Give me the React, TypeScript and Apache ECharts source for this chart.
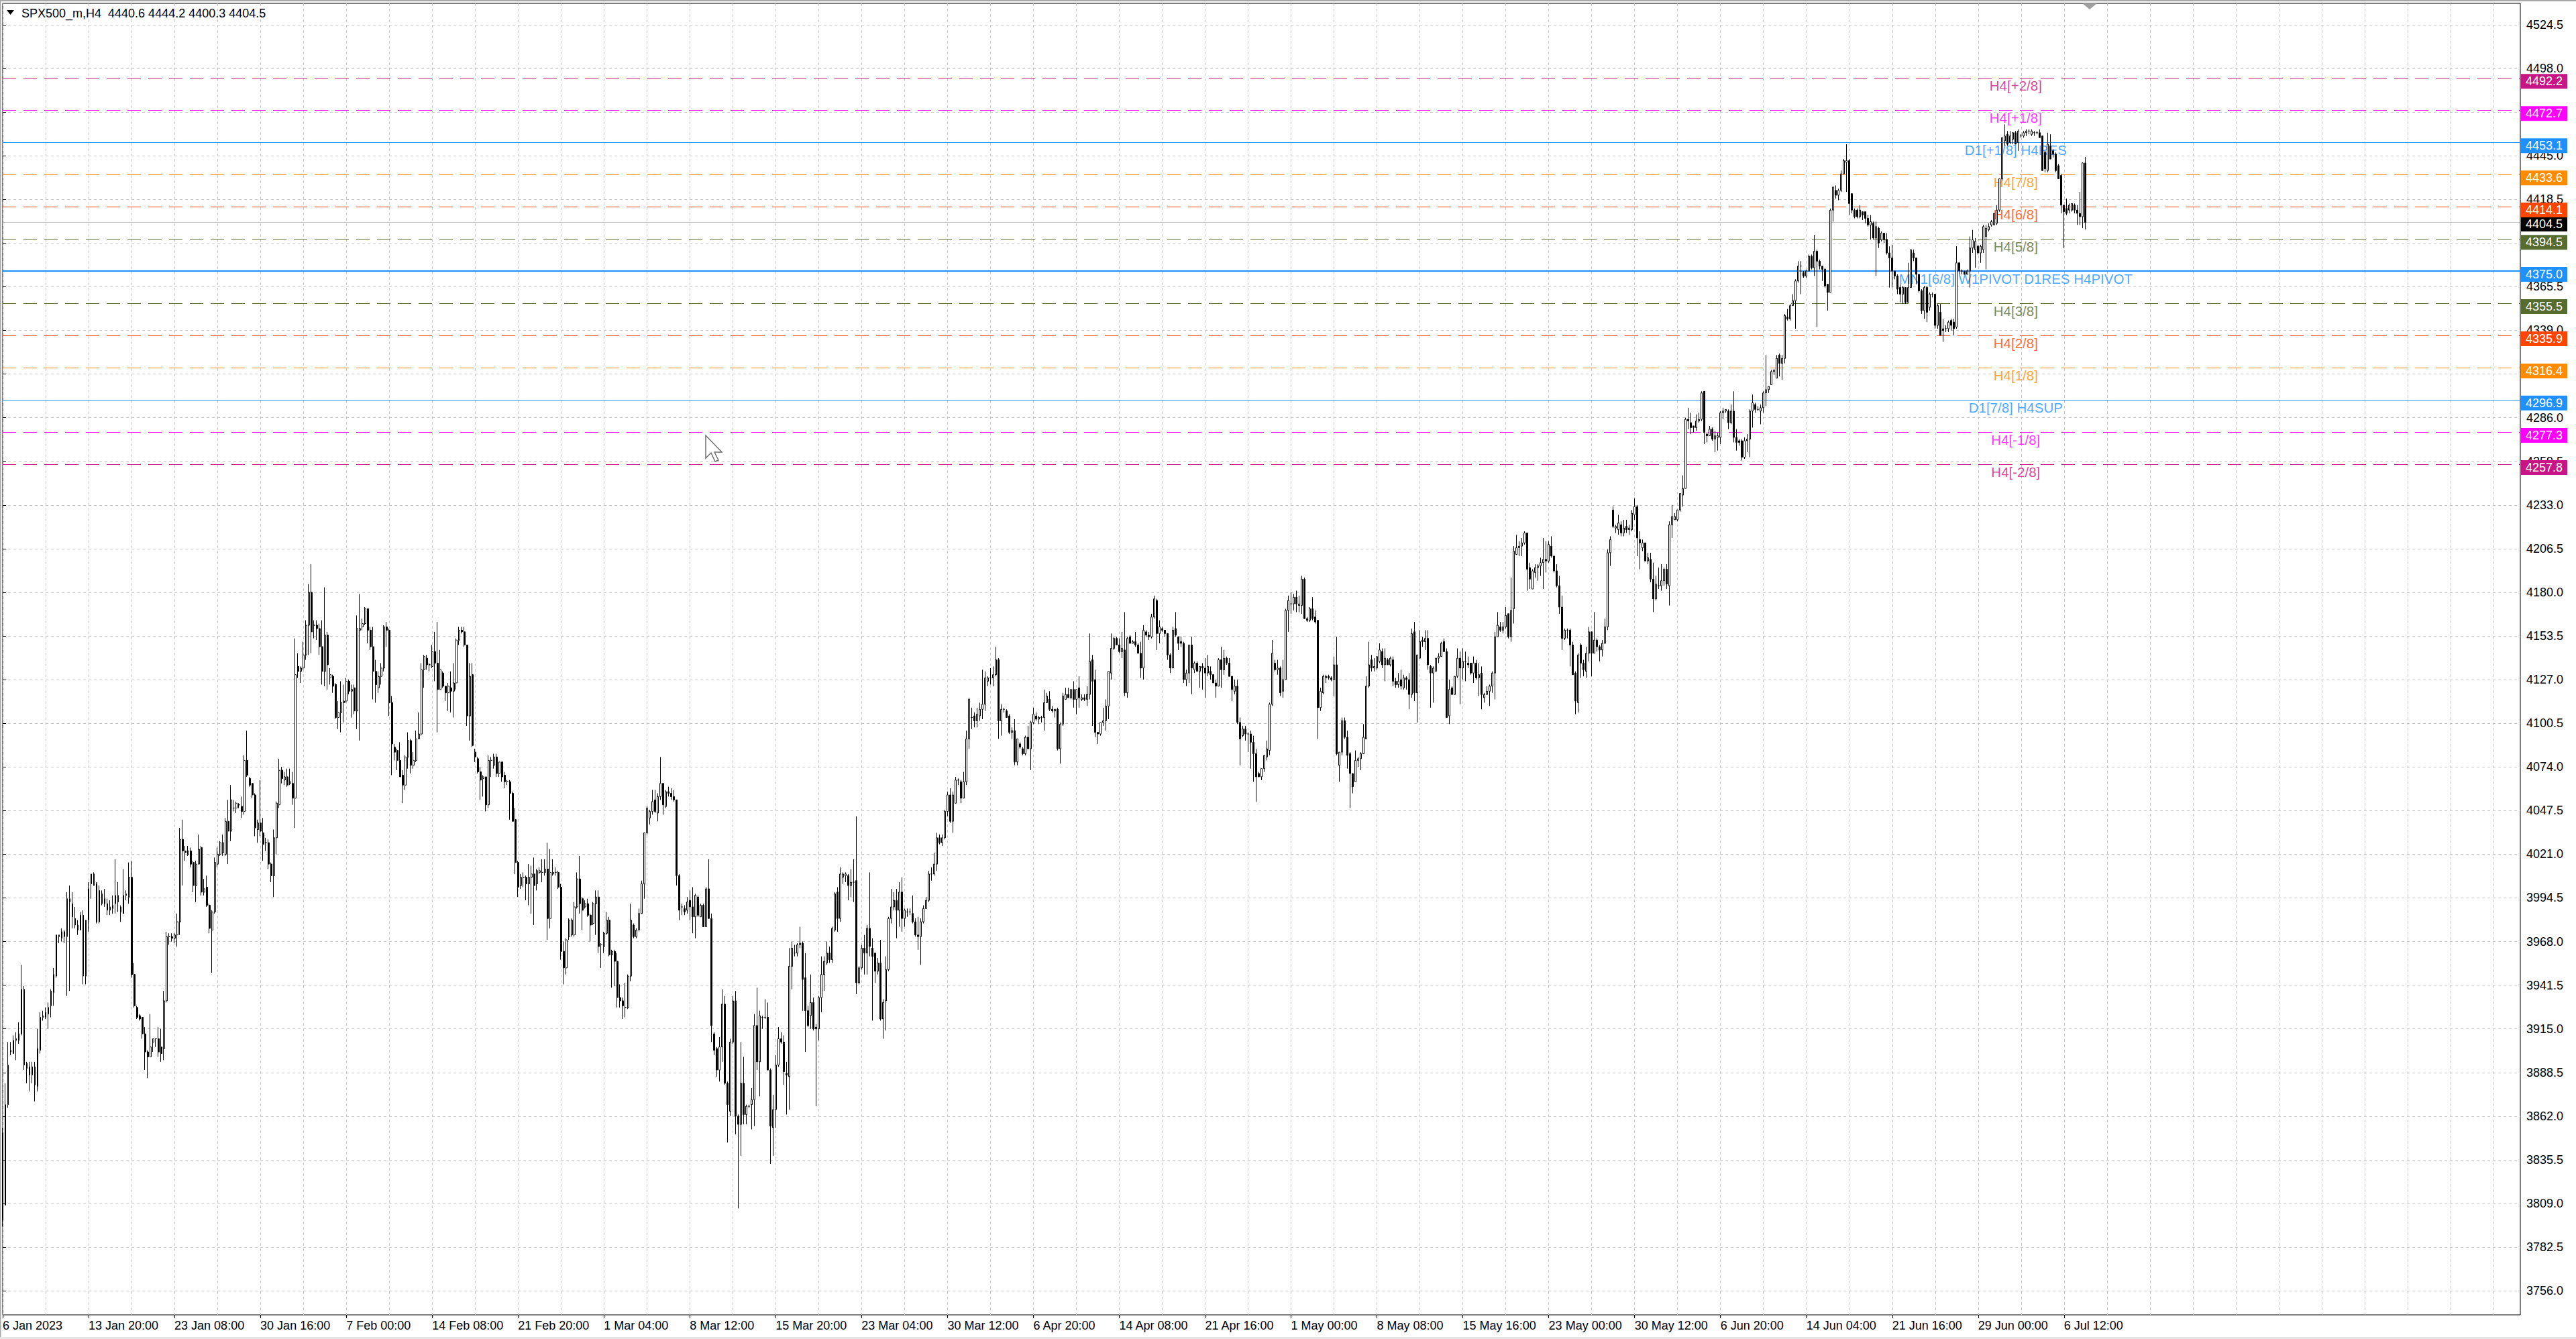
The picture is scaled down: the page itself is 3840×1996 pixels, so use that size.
import { useEffect, useRef } from "react";
import * as echarts from "echarts";

// ---- data (SPX500_m, H4) ----
const dateLabels = [
  "6 Jan 2023", "13 Jan 20:00", "23 Jan 08:00", "30 Jan 16:00", "7 Feb 00:00", "14 Feb 08:00",
  "21 Feb 20:00", "1 Mar 04:00", "8 Mar 12:00", "15 Mar 20:00", "23 Mar 04:00", "30 Mar 12:00",
  "6 Apr 20:00", "14 Apr 08:00", "21 Apr 16:00", "1 May 00:00", "8 May 08:00", "15 May 16:00",
  "23 May 00:00", "30 May 12:00", "6 Jun 20:00", "14 Jun 04:00", "21 Jun 16:00", "29 Jun 00:00",
  "6 Jul 12:00",
];

const opens = [
  3852,3808,3869,3901,3900,3908,3908,3912,3939,3894,
  3892,3887,3892,3880,3902,3922,3922,3924,3929,3937,
  3947,3972,3970,3974,3971,3994,3991,3982,3978,3975,
  3984,3947,3981,4003,4009,4003,3980,3997,3994,3991,
  3987,3988,3991,3996,3989,3985,3996,3995,4007,3948,
  3928,3923,3922,3912,3901,3898,3907,3909,3909,3904,
  3903,3932,3971,3971,3970,3972,3980,4030,4023,4021,
  4023,4016,4002,4015,4025,3998,4001,3990,3975,3986,
  4015,4021,4022,4021,4041,4035,4049,4049,4051,4050,
  4047,4078,4067,4064,4057,4036,4040,4034,4028,4028,
  4015,4008,4031,4051,4072,4066,4068,4064,4064,4055,
  4135,4132,4134,4142,4160,4180,4160,4160,4158,4147,
  4132,4154,4128,4129,4124,4104,4107,4113,4114,
  4126,4120,4122,4108,4157,4159,4161,4170,4157,4147,
  4132,4122,4129,4134,4159,4157,4113,4086,4084,4078,
  4069,4063,4080,4090,4075,4078,4091,4094,4133,4140,
  4136,4135,4144,4137,4121,4131,4123,4119,4122,4120,
  4125,4151,4157,4156,4148,4105,4130,4083,4079,4071,
  4067,4068,4051,4078,4075,4080,4070,4077,4069,4065,
  4065,4058,4042,4016,4002,4007,4007,4003,4007,4009,
  4003,4010,4010,4010,4012,3982,4009,4010,4010,4001,
  3962,3952,3971,3972,3972,3989,4006,3994,3989,3991,
  3984,3979,3991,3995,3966,3965,3973,3981,3960,3962,
  3956,3934,3932,3928,3928,3947,3978,3971,3975,3985,
  4003,4034,4043,4047,4054,4046,4056,4064,4050,4059,
  4058,4056,4054,4008,3989,3988,3987,3993,3989,3983,
  3995,3983,3990,3977,4000,3982,3912,3903,3890,3904,
  3930,3882,3865,3907,3932,3862,3857,3882,3863,3868,
  3869,3872,3917,3895,3922,3922,3922,3890,3855,3866,
  3893,3909,3907,3888,3886,3953,3961,3961,3966,3967,
  3946,3926,3923,3931,3916,3915,3934,3948,3955,3961,
  3957,3975,3998,3982,4007,4008,4008,4002,4004,4005,
  3943,3952,3964,3961,3976,3964,3961,3950,3955,3921,
  3932,3951,3982,3989,3993,3987,3998,3982,3986,3986,
  3985,3980,3972,3971,3980,3988,3993,4009,4009,4015,
  4031,4028,4031,4047,4057,4041,4052,4066,4065,4055,
  4065,4091,4104,4105,4102,4105,4109,4112,4126,4128,
  4128,4130,4139,4102,4109,4108,4105,4095,4096,4077,
  4088,4085,4082,4092,4085,4101,4105,4103,4104,4104,
  4113,4115,4109,4108,4109,4085,4100,4115,4118,4116,
  4121,4115,4122,4115,4116,4115,4118,4139,4127,4095,
  4094,4101,4102,4111,4131,4146,4152,4148,4144,4145,
  4119,4153,4149,4150,4148,4143,4134,4156,4154,4153,
  4165,4175,4155,4158,4157,4155,4142,4134,4158,4153,
  4150,4149,4127,4131,4148,4133,4137,4132,4135,4134,
  4131,4132,4130,4125,4123,4139,4133,4140,4137,4129,
  4120,4123,4101,4093,4097,4094,4094,4089,4082,4070,
  4068,4073,4080,4084,4112,4137,4133,4134,4120,4127,
  4169,4173,4173,4177,4172,4172,4188,4164,4163,4170,
  4165,4163,4110,4119,4128,4129,4128,4127,4136,4075,
  4083,4102,4092,4082,4070,4065,4078,4079,4082,4091,
  4123,4139,4134,4134,4138,4144,4136,4139,4136,4139,
  4126,4124,4127,4122,4128,4127,4118,4156,4119,4140,
  4151,4150,4152,4135,4131,4132,4140,4141,4150,4144,
  4105,4122,4118,4129,4140,4134,4138,4137,4137,4131,
  4137,4128,4131,4116,4118,4120,4123,4131,4153,4159,
  4157,4159,4167,4153,4170,4203,4207,4208,4210,4216,
  4195,4182,4192,4195,4196,4198,4200,4199,4208,4202,
  4193,4184,4171,4152,4157,4157,4148,4131,4113,4148,
  4137,4132,4143,4156,4143,4151,4147,4145,4149,4159,
  4204,4230,4219,4218,4221,4216,4220,4218,4218,4227,
  4232,4212,4207,4210,4199,4200,4188,4176,4184,4184,
  4187,4194,4184,4221,4224,4224,4230,4239,4243,4285,
  4283,4281,4280,4284,4285,4302,4276,4275,4279,4273,
  4274,4274,4289,4290,4290,4283,4290,4274,4272,4272,
  4262,4272,4273,4290,4294,4291,4290,4292,4301,4303,
  4306,4314,4310,4324,4319,4322,4347,4346,4354,4357,
  4369,4378,4374,4372,4375,4384,4377,4387,4381,4378,
  4376,4367,4362,4412,4424,4421,4424,4434,4441,4442,
  4422,4412,4412,4408,4411,4411,4407,4403,4404,4395,
  4401,4394,4398,4394,4386,4383,4375,4372,4365,4361,
  4365,4356,4365,4386,4383,4373,4363,4351,4365,4353,
  4361,4361,4342,4350,4340,4340,4340,4345,4344,4341,
  4380,4375,4375,4373,4375,4389,4388,4390,4386,4388,
  4396,4400,4403,4403,4404,4412,4431,4454,4458,4453,
  4455,4459,4453,4457,4457,4459,4460,4458,4459,4459,
  4459,4457,4447,4436,4451,4448,4446,4439,4433,4415,
  4413,4412,4412,4415,4412,4410,4408,4440.6,
];

const highs = [
  3855,3882,3907,3907,3911,3913,3919,3954,3941,3895,
  3895,3895,3895,3915,3925,3926,3928,3931,3939,3952,
  3972,3972,3976,3975,3998,4002,3998,3989,3981,3986,
  3987,3981,4004,4009,4010,4004,4002,3999,4000,3994,
  3993,3996,4018,4004,3990,4012,3999,4016,4017,3955,
  3929,3924,3922,3916,3902,3924,3909,3909,3916,3915,
  3938,3974,3973,3973,3973,3985,4037,4042,4026,4026,
  4025,4017,4017,4033,4026,4006,4008,3991,3987,4019,
  4025,4029,4033,4043,4054,4063,4054,4053,4052,4056,
  4081,4096,4068,4064,4058,4042,4066,4043,4031,4030,
  4016,4036,4053,4079,4074,4071,4073,4073,4071,4152,
  4143,4135,4150,4163,4185,4197,4163,4163,4161,4163,
  4183,4156,4134,4130,4125,4114,4126,4124,4128,
  4127,4124,4124,4166,4179,4164,4171,4170,4159,4159,
  4139,4132,4137,4160,4162,4158,4117,4088,4085,4089,
  4072,4081,4095,4091,4083,4096,4107,4137,4142,4142,
  4137,4148,4156,4162,4145,4132,4123,4125,4132,4137,
  4152,4159,4159,4159,4148,4137,4137,4085,4080,4074,
  4069,4068,4081,4080,4082,4082,4077,4077,4071,4066,
  4066,4059,4049,4017,4009,4010,4008,4015,4014,4019,
  4012,4013,4018,4018,4028,4024,4018,4013,4011,4003,
  3968,3970,3982,3982,3992,4010,4020,3995,3993,3994,
  3985,3992,3999,3999,3967,3974,3986,3983,3963,3963,
  3961,3942,3934,3943,3948,3991,3979,3976,3988,4005,
  4034,4050,4048,4060,4060,4058,4080,4064,4060,4062,
  4061,4060,4054,4009,3991,3990,3995,3999,4001,3997,
  3996,3991,3991,4001,4018,3985,3913,3904,3910,3939,
  3935,3883,3909,3935,3938,3863,3907,3898,3869,3869,
  3879,3924,3940,3926,3923,3933,3931,3891,3875,3899,
  3916,3913,3911,3895,3964,3968,3966,3967,3977,3968,
  3961,3929,3948,3934,3918,3935,3959,3959,3968,3965,
  3977,3998,4001,4013,4010,4010,4009,4012,4018,4044,
  3953,3966,3972,3978,4010,3970,3961,3958,3969,3933,
  3959,3983,4000,3998,4000,4004,4007,3988,3988,3988,
  3996,3982,3983,3982,3990,3995,4011,4013,4022,4034,
  4033,4033,4048,4059,4061,4059,4068,4067,4066,4071,
  4096,4116,4110,4107,4110,4113,4133,4132,4129,4134,
  4135,4147,4140,4112,4110,4109,4106,4098,4103,4091,
  4089,4086,4093,4099,4102,4110,4107,4105,4105,4121,
  4119,4120,4111,4109,4110,4101,4119,4122,4122,4121,
  4126,4121,4129,4118,4118,4123,4155,4142,4133,4095,
  4101,4110,4115,4132,4155,4153,4153,4152,4156,4168,
  4153,4154,4151,4156,4149,4150,4160,4157,4156,4167,
  4178,4176,4163,4159,4157,4155,4143,4159,4168,4153,
  4153,4150,4133,4148,4153,4138,4138,4135,4137,4140,
  4142,4135,4130,4127,4140,4147,4145,4141,4140,4129,
  4127,4127,4104,4099,4099,4095,4096,4093,4085,4071,
  4073,4081,4090,4113,4151,4139,4139,4135,4139,4170,
  4178,4180,4179,4181,4178,4190,4189,4165,4171,4177,
  4169,4163,4122,4130,4130,4130,4129,4141,4153,4083,
  4104,4104,4096,4083,4070,4084,4080,4083,4100,4129,
  4150,4142,4140,4141,4149,4146,4146,4140,4141,4141,
  4128,4131,4133,4130,4129,4131,4158,4162,4142,4157,
  4153,4157,4157,4136,4135,4140,4143,4150,4152,4146,
  4127,4123,4129,4146,4144,4146,4144,4141,4137,4141,
  4139,4137,4135,4119,4123,4124,4132,4156,4168,4162,
  4162,4171,4167,4189,4208,4215,4211,4213,4217,4216,
  4198,4194,4197,4197,4201,4213,4211,4211,4214,4202,
  4197,4190,4178,4158,4158,4158,4150,4132,4143,4149,
  4139,4147,4159,4156,4168,4152,4148,4151,4164,4206,
  4214,4232,4221,4227,4223,4224,4224,4221,4230,4237,
  4233,4217,4212,4210,4204,4204,4198,4190,4195,4197,
  4195,4197,4223,4233,4228,4230,4240,4251,4286,4292,
  4289,4281,4288,4289,4302,4302,4277,4281,4280,4278,
  4277,4290,4292,4291,4291,4294,4302,4279,4273,4273,
  4274,4276,4291,4300,4295,4293,4294,4302,4324,4305,
  4315,4315,4324,4325,4324,4349,4352,4355,4361,4370,
  4381,4381,4375,4376,4385,4385,4397,4388,4382,4378,
  4377,4367,4413,4426,4427,4425,4436,4443,4452,4443,
  4422,4413,4413,4415,4411,4411,4409,4409,4405,4405,
  4402,4399,4398,4398,4390,4391,4375,4373,4367,4366,
  4365,4380,4388,4388,4383,4373,4364,4366,4366,4362,
  4362,4361,4355,4355,4346,4342,4345,4346,4346,4390,
  4380,4376,4375,4376,4396,4400,4395,4391,4391,4403,
  4403,4404,4406,4410,4415,4431,4456,4464,4460,4460,
  4459,4460,4461,4458,4460,4461,4461,4461,4460,4460,
  4461,4457,4448,4459,4458,4449,4447,4440,4434,4415,
  4419,4416,4416,4416,4415,4423,4441,4444.2,
];

const lows = [
  3795,3808,3867,3899,3900,3896,3906,3911,3890,3882,
  3877,3882,3871,3877,3900,3920,3921,3915,3922,3929,
  3946,3967,3968,3967,3935,3938,3976,3976,3972,3975,
  3942,3942,3974,3994,4002,3979,3979,3990,3989,3984,
  3984,3985,3985,3986,3980,3985,3993,3991,3946,3928,
  3921,3920,3909,3890,3885,3898,3901,3904,3898,3895,
  3896,3931,3966,3968,3967,3965,3972,4002,4017,4020,
  4013,3998,3992,4015,3996,3996,3989,3973,3949,3985,
  4013,4020,4020,4020,4015,4029,4047,4046,4049,4043,
  4045,4068,4062,4055,4032,4028,4032,4017,4023,4012,
  4004,3995,4021,4049,4064,4063,4062,4063,4051,4037,
  4128,4125,4133,4139,4142,4143,4152,4151,4142,4124,
  4123,4121,4124,4119,4103,4097,4095,4101,4113,
  4118,4104,4106,4097,4090,4157,4160,4149,4145,4115,
  4113,4119,4124,4132,4147,4105,4069,4078,4072,4068,
  4052,4060,4073,4070,4073,4077,4091,4093,4122,4133,
  4132,4134,4126,4095,4121,4122,4114,4108,4107,4104,
  4121,4148,4155,4147,4099,4090,4086,4077,4070,4054,
  4056,4047,4049,4068,4073,4068,4068,4065,4061,4063,
  4042,4041,4009,3995,4000,4001,3993,3990,3985,3978,
  3999,4009,4004,4008,3969,3976,4008,4008,4000,3957,
  3942,3948,3969,3971,3971,3988,3985,3975,3988,3983,
  3968,3978,3972,3961,3952,3961,3972,3959,3940,3941,
  3928,3928,3921,3922,3927,3944,3970,3970,3975,3985,
  3994,4033,4039,4045,4046,4041,4054,4045,4049,4056,
  4054,4053,4002,3981,3984,3984,3985,3981,3973,3970,
  3983,3983,3977,3977,3982,3907,3899,3886,3883,3895,
  3881,3846,3862,3906,3851,3806,3838,3857,3857,3867,
  3854,3856,3890,3874,3915,3921,3890,3833,3838,3855,
  3892,3906,3881,3863,3866,3939,3959,3959,3964,3926,
  3901,3916,3915,3914,3868,3908,3925,3938,3954,3955,
  3955,3974,3974,3980,4003,4004,3993,3995,3992,3936,
  3942,3951,3948,3948,3959,3920,3943,3948,3920,3909,
  3914,3950,3979,3987,3970,3977,3974,3977,3983,3984,
  3979,3971,3963,3954,3979,3988,3992,4005,4008,4011,
  4027,4026,4030,4044,4040,4034,4052,4063,4052,4055,
  4063,4085,4097,4098,4098,4102,4103,4108,4123,4124,
  4123,4129,4091,4093,4107,4104,4094,4091,4075,4075,
  4085,4081,4081,4085,4072,4100,4102,4100,4101,4096,
  4113,4108,4107,4104,4084,4076,4099,4115,4116,4115,
  4110,4106,4110,4114,4114,4111,4115,4099,4092,4088,
  4093,4099,4096,4103,4127,4145,4148,4143,4140,4117,
  4116,4149,4149,4147,4143,4128,4127,4153,4151,4152,
  4164,4145,4149,4156,4153,4139,4131,4134,4153,4145,
  4147,4125,4123,4125,4118,4131,4132,4122,4121,4116,
  4129,4127,4125,4116,4123,4122,4130,4136,4129,4114,
  4118,4100,4075,4092,4090,4083,4073,4065,4053,4068,
  4066,4071,4078,4081,4111,4132,4130,4117,4116,4127,
  4156,4167,4169,4168,4168,4167,4164,4162,4162,4163,
  4161,4091,4108,4118,4125,4127,4126,4117,4081,4065,
  4081,4091,4073,4049,4058,4065,4074,4072,4082,4091,
  4122,4132,4132,4133,4137,4134,4126,4136,4135,4123,
  4122,4122,4121,4121,4121,4109,4116,4114,4101,4140,
  4147,4145,4133,4110,4113,4132,4137,4141,4144,4104,
  4100,4118,4118,4128,4112,4127,4126,4134,4130,4125,
  4127,4117,4109,4113,4118,4111,4119,4115,4153,4156,
  4155,4158,4152,4150,4161,4203,4202,4202,4209,4181,
  4182,4182,4189,4187,4190,4182,4192,4198,4201,4192,
  4183,4167,4145,4151,4152,4135,4130,4106,4107,4128,
  4129,4128,4138,4129,4143,4144,4138,4141,4149,4157,
  4196,4219,4216,4215,4214,4214,4216,4215,4217,4224,
  4202,4194,4205,4199,4197,4186,4168,4175,4182,4181,
  4184,4182,4172,4213,4224,4223,4229,4232,4243,4279,
  4276,4277,4278,4283,4284,4270,4271,4275,4272,4265,
  4266,4270,4285,4289,4279,4282,4271,4266,4269,4260,
  4261,4265,4262,4280,4289,4290,4282,4289,4293,4301,
  4306,4312,4310,4311,4309,4319,4345,4345,4354,4340,
  4368,4361,4371,4371,4375,4376,4372,4341,4376,4369,
  4365,4351,4362,4405,4419,4418,4423,4434,4423,4409,
  4410,4407,4407,4407,4406,4404,4402,4394,4394,4372,
  4389,4393,4392,4385,4365,4365,4370,4361,4356,4355,
  4355,4356,4365,4381,4367,4362,4349,4346,4344,4351,
  4359,4340,4340,4336,4332,4338,4338,4339,4336,4340,
  4373,4373,4373,4373,4365,4386,4377,4385,4380,4386,
  4376,4399,4402,4403,4403,4411,4430,4451,4451,4452,
  4452,4452,4448,4456,4456,4457,4458,4457,4457,4458,
  4456,4436,4435,4435,4443,4444,4435,4431,4410,4389,
  4409,4410,4411,4410,4403,4403,4401,4400.3,
];

const closes = [
  3799,3869,3893,3902,3908,3909,3912,3939,3893,3891,
  3887,3892,3881,3903,3922,3923,3925,3928,3938,3948,
  3972,3971,3974,3971,3994,3992,3983,3978,3975,3984,
  3947,3981,4000,4009,4002,3980,3999,3991,3991,3987,
  3989,3990,3996,3992,3986,3996,3997,4007,3948,3929,
  3922,3921,3912,3901,3898,3904,3909,3909,3901,3900,
  3932,3971,3971,3970,3972,3980,4030,4023,4022,4023,
  4015,4002,4015,4024,3998,4000,3990,3976,3986,4016,
  4021,4028,4028,4041,4035,4054,4049,4052,4051,4047,
  4078,4069,4063,4057,4037,4040,4035,4027,4028,4015,
  4008,4031,4052,4072,4067,4068,4063,4065,4055,4130,
  4132,4134,4142,4160,4180,4156,4160,4158,4147,4132,
  4154,4136,4130,4123,4104,4107,4113,4114,4126,
  4120,4121,4108,4158,4158,4161,4170,4157,4147,4132,
  4124,4129,4134,4159,4157,4113,4088,4083,4078,4068,
  4063,4080,4090,4075,4078,4091,4094,4133,4141,4136,
  4136,4144,4137,4121,4133,4123,4119,4123,4120,4125,
  4151,4157,4156,4148,4105,4129,4087,4080,4071,4066,
  4068,4051,4078,4078,4080,4070,4077,4068,4065,4065,
  4058,4041,4016,4001,4007,4007,4003,4007,4009,4002,
  4011,4011,4010,4012,3982,4010,4010,4010,4001,3962,
  3952,3969,3981,3981,3989,4006,3991,3987,3991,3984,
  3978,3991,3995,3965,3966,3973,3981,3960,3962,3956,
  3934,3932,3929,3928,3947,3981,3971,3975,3985,4003,
  4034,4049,4047,4053,4047,4056,4064,4051,4059,4058,
  4056,4054,4008,3987,3989,3986,3992,3989,3983,3996,
  3984,3990,3977,4000,3982,3917,3902,3890,3904,3930,
  3882,3869,3907,3932,3862,3857,3882,3863,3868,3868,
  3872,3917,3895,3923,3922,3922,3890,3856,3866,3893,
  3909,3907,3889,3887,3953,3964,3961,3966,3967,3945,
  3926,3917,3931,3915,3915,3934,3948,3956,3961,3957,
  3976,3997,3982,4009,4009,4009,4002,4004,4004,3943,
  3952,3964,3961,3976,3965,3959,3950,3955,3921,3931,
  3951,3982,3989,3993,3987,3998,3982,3987,3986,3986,
  3980,3972,3971,3980,3988,3993,4009,4009,4015,4031,
  4028,4031,4047,4057,4041,4057,4066,4066,4055,4065,
  4091,4115,4104,4102,4106,4109,4112,4128,4128,4128,
  4130,4139,4102,4109,4109,4104,4095,4096,4077,4091,
  4086,4082,4092,4085,4101,4106,4103,4104,4104,4113,
  4117,4109,4108,4109,4085,4100,4117,4118,4116,4121,
  4115,4121,4116,4116,4115,4118,4138,4126,4095,4094,
  4101,4102,4111,4132,4146,4152,4148,4144,4146,4119,
  4152,4149,4150,4148,4143,4134,4157,4154,4153,4165,
  4176,4155,4159,4157,4155,4142,4134,4157,4154,4149,
  4149,4127,4131,4148,4134,4137,4132,4135,4134,4131,
  4135,4130,4125,4123,4139,4133,4140,4137,4129,4121,
  4123,4101,4091,4097,4094,4094,4089,4082,4068,4068,
  4073,4081,4085,4112,4143,4133,4134,4119,4127,4169,
  4175,4173,4177,4173,4173,4188,4164,4163,4170,4164,
  4162,4110,4120,4129,4129,4128,4127,4136,4082,4083,
  4102,4092,4081,4070,4062,4078,4079,4082,4092,4123,
  4136,4134,4135,4141,4145,4136,4140,4136,4140,4126,
  4124,4126,4123,4128,4127,4118,4155,4119,4142,4150,
  4150,4152,4136,4131,4134,4140,4141,4149,4144,4104,
  4121,4118,4129,4140,4134,4138,4138,4136,4131,4137,
  4128,4130,4118,4118,4120,4123,4131,4153,4160,4157,
  4159,4166,4153,4169,4205,4207,4208,4210,4216,4194,
  4188,4193,4195,4196,4198,4200,4199,4209,4202,4193,
  4184,4171,4152,4157,4157,4148,4130,4114,4142,4137,
  4133,4143,4156,4143,4151,4147,4145,4149,4159,4204,
  4212,4220,4220,4222,4216,4219,4218,4219,4228,4232,
  4213,4210,4210,4199,4201,4188,4176,4185,4184,4187,
  4194,4185,4221,4226,4226,4230,4240,4243,4285,4284,
  4280,4280,4284,4285,4301,4277,4275,4279,4273,4275,
  4275,4289,4290,4291,4283,4290,4274,4271,4271,4262,
  4272,4273,4290,4295,4291,4291,4292,4301,4303,4305,
  4314,4315,4322,4319,4322,4348,4346,4354,4357,4369,
  4378,4378,4372,4375,4384,4377,4387,4381,4378,4376,
  4366,4362,4412,4426,4421,4424,4434,4442,4442,4416,
  4412,4408,4408,4412,4409,4407,4403,4405,4395,4402,
  4392,4398,4394,4386,4383,4375,4372,4364,4361,4365,
  4356,4365,4388,4383,4373,4363,4351,4365,4350,4361,
  4361,4342,4354,4336,4339,4340,4344,4342,4340,4380,
  4375,4375,4373,4375,4389,4394,4393,4386,4390,4402,
  4401,4402,4405,4410,4412,4431,4456,4457,4452,4457,
  4459,4452,4460,4457,4459,4460,4460,4460,4459,4459,
  4456,4436,4437,4452,4443,4446,4436,4431,4415,4411,
  4410,4415,4416,4412,4410,4408,4440.6,4404.5,
];

// Murrey-math style level lines drawn on the chart
const levelPrices = [4492.2, 4472.7, 4453.1, 4433.6, 4414.1, 4394.5, 4375.0, 4355.5, 4335.9, 4316.4, 4296.9, 4277.3, 4257.8];
const levelNames = [
  "H4[+2/8]", "H4[+1/8]", "D1[+1/8] H4RES", "H4[7/8]", "H4[6/8]", "H4[5/8]",
  "MN1[6/8] W1PIVOT D1RES H4PIVOT", "H4[3/8]", "H4[2/8]", "H4[1/8]", "D1[7/8] H4SUP", "H4[-1/8]", "H4[-2/8]",
];
const bidPrice = 4404.5;

// price scale ticks
const priceTickMin = 3756.0;
const priceTickMax = 4524.5;
const priceTickStep = 26.5;

// ---- layout / style ----
const W = 3840;
const H = 1996;
const PLOT_LEFT = 4;
const PLOT_RIGHT = 3757;
const PLOT_TOP = 5;
const PLOT_BOTTOM = 1960;
const Y_MIN = 3741.4;
const Y_MAX = 4537.5;
const SLOTS = 939; // bar slots incl. the chart shift area
const BARS_PER_LABEL = 32;
const BARS_PER_VGRID = 16;
const TEXT_SLOT = 750;
const FONT = "'Liberation Sans', Arial, sans-serif";
const GRID_COLOR = "#c8c8c8";
const PX_PER_POINT = (PLOT_BOTTOM - PLOT_TOP) / (Y_MAX - Y_MIN);

const levelColors = ["#C71585", "#FF00FF", "#1E90FF", "#FF8C00", "#FF4500", "#556B2F", "#1E90FF", "#556B2F", "#FF4500", "#FF8C00", "#1E90FF", "#FF00FF", "#C71585"];
const levelSolid = [false, false, true, false, false, false, true, false, false, false, true, false, false];
const levelWidths = [1, 1, 1, 1, 1, 1, 2, 1, 1, 1, 1, 1, 1];

// a label-only mark line: the line itself is transparent, the label is the coloured price box
function priceBox(value: number, bg: string, shiftPx: number) {
  return {
    yAxis: value - shiftPx / PX_PER_POINT,
    lineStyle: { color: "rgba(0,0,0,0)", width: 1, type: "solid", opacity: 1 },
    label: {
      show: true,
      position: "end",
      distance: 1,
      formatter: value.toFixed(1),
      backgroundColor: bg,
      color: "#ffffff",
      opacity: 1,
      padding: [2, 7, 2, 7],
      fontSize: 18,
      lineHeight: 18,
      fontFamily: FONT,
    },
  };
}

function buildOption(): any {
  const n = Math.min(opens.length, highs.length, lows.length, closes.length);
  const candles = [];
  for (let i = 0; i < n; i++) candles.push([opens[i], closes[i], lows[i], highs[i]]);
  const slots = Array.from({ length: SLOTS }, (_, i) => String(i));
  const last = n - 1;
  const header = `SPX500_m,H4  ${opens[last].toFixed(1)} ${highs[last].toFixed(1)} ${lows[last].toFixed(1)} ${closes[last].toFixed(1)}`;
  const lastLabelIdx = (dateLabels.length - 1) * BARS_PER_LABEL;

  const lineItems: any[] = levelPrices.map((p, i) => ({
    yAxis: p,
    lineStyle: { color: levelColors[i], type: levelSolid[i] ? "solid" : [20, 11], width: levelWidths[i] },
    label: { show: false },
  }));
  lineItems.push({ yAxis: bidPrice, lineStyle: { color: "#c0c0c0", type: "solid", width: 1 }, label: { show: false } });
  const boxItems: any[] = [priceBox(bidPrice, "#000000", 2.5)];
  levelPrices.forEach((p, i) => boxItems.push(priceBox(p, levelColors[i], 5)));

  const s = 2; // cursor scale
  const cx = 1052;
  const cy = 649;
  const cursorPts = [[0, 0], [0, 17], [4, 13], [7, 19.5], [9.5, 18.5], [6.5, 12.5], [12, 12.5]].map(([x, y]) => [cx + x * s, cy + y * s]);

  return {
    animation: false,
    backgroundColor: "#ffffff",
    textStyle: { fontFamily: FONT },
    grid: [
      {
        left: PLOT_LEFT, right: W - PLOT_RIGHT, top: PLOT_TOP, bottom: H - PLOT_BOTTOM,
        show: true, borderColor: "#000000", borderWidth: 1, backgroundColor: "transparent",
        containLabel: false, outerBoundsMode: "none",
      },
      {
        left: PLOT_LEFT, right: W - PLOT_RIGHT,
        top: PLOT_TOP + (Y_MAX - priceTickMax) * PX_PER_POINT,
        bottom: H - (PLOT_TOP + (Y_MAX - priceTickMin) * PX_PER_POINT),
        show: false, containLabel: false, outerBoundsMode: "none",
      },
    ],
    xAxis: [
      {
        type: "category", gridIndex: 0, data: slots, boundaryGap: false,
        axisLine: { show: false },
        axisTick: {
          show: true, length: 5, lineStyle: { color: "#000000", width: 1 },
          interval: (i: number) => i % BARS_PER_LABEL === 0 && i <= lastLabelIdx,
        },
        axisLabel: {
          show: true, align: "left", margin: 7, fontSize: 18, color: "#000000", fontFamily: FONT,
          hideOverlap: false,
          interval: (i: number) => i % BARS_PER_LABEL === 0 && i <= lastLabelIdx,
          formatter: (_v: string, i: number) => (i % BARS_PER_LABEL === 0 ? dateLabels[i / BARS_PER_LABEL] ?? "" : ""),
        },
        splitLine: {
          show: true, interval: (i: number) => i % BARS_PER_VGRID === 0,
          lineStyle: { color: GRID_COLOR, type: [4, 4], width: 1 },
        },
      },
      { type: "value", gridIndex: 1, show: false, min: 0, max: 1 },
    ],
    yAxis: [
      { type: "value", gridIndex: 0, min: Y_MIN, max: Y_MAX, show: false, scale: true },
      {
        type: "value", gridIndex: 1, position: "right", z: 0,
        min: priceTickMin, max: priceTickMax, interval: priceTickStep,
        axisLine: { show: false },
        axisTick: { show: true, length: 5, lineStyle: { color: "#000000", width: 1 } },
        axisLabel: {
          show: true, margin: 9, fontSize: 18, color: "#000000", fontFamily: FONT,
          formatter: (v: number) => v.toFixed(1),
        },
        splitLine: { show: true, lineStyle: { color: GRID_COLOR, type: [4, 4], width: 1 } },
      },
    ],
    series: [
      {
        type: "scatter", name: "levels", xAxisIndex: 0, yAxisIndex: 0, z: 1, silent: true, clip: false,
        symbol: "circle", symbolSize: 1, itemStyle: { color: "rgba(0,0,0,0)" },
        data: levelPrices.map((p, i) => ({ name: levelNames[i], value: [TEXT_SLOT, p], label: { color: levelColors[i] } })),
        label: { show: true, position: "bottom", distance: 0, formatter: "{b}", fontSize: 20.5, lineHeight: 22, fontFamily: FONT },
        markLine: {
          silent: true, symbol: ["none", "none"], z: 5, animation: false,
          data: [...lineItems, ...boxItems],
        },
      },
      {
        type: "candlestick", name: "SPX500_m", xAxisIndex: 0, yAxisIndex: 0, z: 10,
        data: candles, barWidth: 2.4, large: false, clip: true,
        itemStyle: {
          color: "#ffffff", color0: "#000000", borderColor: "#000000", borderColor0: "#000000",
          borderColorDoji: "#000000", borderWidth: 1,
        },
      },
    ],
    graphic: [
      { type: "rect", shape: { x: 0, y: 0, width: W, height: 2 }, style: { fill: "#a8a8a8" }, silent: true },
      { type: "rect", shape: { x: 0, y: 0, width: 1.5, height: H }, style: { fill: "#a8a8a8" }, silent: true },
      { type: "rect", shape: { x: 0, y: H - 3, width: W, height: 3 }, style: { fill: "#e4e4e4" }, silent: true },
      { type: "polygon", shape: { points: [[10, 15], [21, 15], [15.5, 22]] }, style: { fill: "#000000" }, silent: true, z: 50 },
      {
        type: "text", x: 32, y: 20, silent: true, z: 50,
        style: { text: header, fill: "#000000", fontSize: 18, fontFamily: FONT, verticalAlign: "middle" },
      },
      { type: "polygon", shape: { points: [[3104, 5], [3126, 5], [3115, 14]] }, style: { fill: "#a0a0a0" }, silent: true, z: 50 },
      {
        type: "polygon", shape: { points: cursorPts }, silent: true, z: 100,
        style: { fill: "#ffffff", stroke: "#707070", lineWidth: 1.5 },
      },
    ],
  };
}

export default function App() {
  const ref = useRef<HTMLDivElement>(null);

  useEffect(() => {
    if (!ref.current) return;
    const chart = echarts.init(ref.current, undefined, { renderer: "svg" });
    chart.setOption(buildOption());
    return () => chart.dispose();
  }, []);

  return (
    <div
      ref={ref}
      style={{ position: "absolute", left: 0, top: 0, width: W, height: H, background: "#ffffff" }}
    />
  );
}
